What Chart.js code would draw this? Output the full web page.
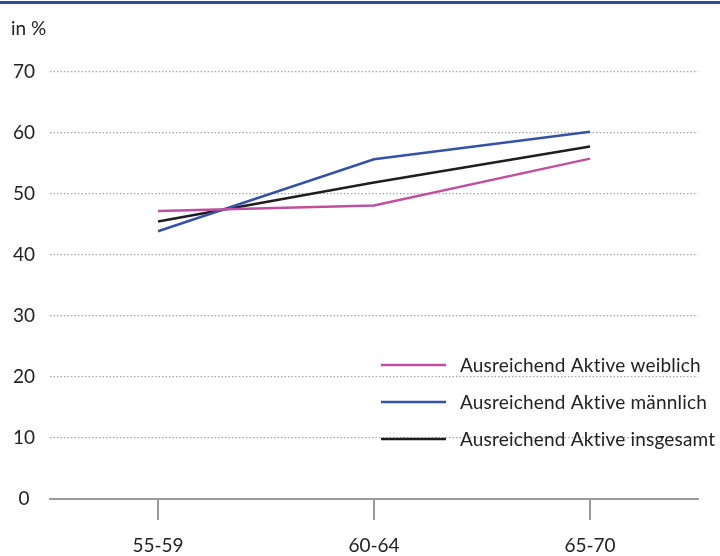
<!DOCTYPE html>
<html>
<head>
<meta charset="utf-8">
<script src="https://cdn.jsdelivr.net/npm/chart.js@4"></script>
<style>
  html, body { margin: 0; padding: 0; background: #fff; }
  #wrap { width: 720px; height: 556px; position: relative; }
</style>
</head>
<body>
<div id="wrap"><canvas id="LineChart"></canvas></div>
<script>
// chart data
const categories = ["55-59", "60-64", "65-70"];
const weiblich = [47.2, 48.1, 55.8];
const maennlich = [43.9, 55.7, 60.2];
const insgesamt = [45.5, 51.9, 57.8];
const seriesLabels = ["Ausreichend Aktive weiblich", "Ausreichend Aktive männlich", "Ausreichend Aktive insgesamt"];
const unitLabel = "in %";

const pink = "#c0509f", blue = "#3553a6", black = "#1e1e1e";
const grey = "#9a9a9a", textColor = "#222";
const fontFamily = "Lato, 'Noto Sans', sans-serif";
const fontSize = 19;

// top bar, unit label and legend drawn inside the chart
const decorations = {
    id: "decorations",
    afterDraw(chart) {
        const ctx = chart.ctx;
        ctx.save();
        ctx.fillStyle = "#2f4b9c";
        ctx.fillRect(0, 1, chart.width, 3);

        ctx.fillStyle = textColor;
        ctx.font = fontSize + "px " + fontFamily;
        ctx.textBaseline = "middle";
        ctx.textAlign = "left";
        ctx.fillText(unitLabel, 11, 29);

        // legend (small letter spacing keeps "ti" from turning into a ligature)
        ctx.letterSpacing = "0.2px";
        const sets = chart.data.datasets;
        for (let i = 0; i < sets.length; i++) {
            const y = 365 + i * 37;
            ctx.strokeStyle = sets[i].borderColor;
            ctx.lineWidth = 2.5;
            ctx.beginPath();
            ctx.moveTo(381, y);
            ctx.lineTo(446, y);
            ctx.stroke();
            ctx.fillStyle = textColor;
            ctx.fillText(sets[i].label, 460, y + 1);
        }
        ctx.restore();
    }
};

var config = {
    type: "line",
    data: {
        labels: categories,
        datasets: [
            { label: seriesLabels[0], data: weiblich, borderColor: pink, backgroundColor: pink },
            { label: seriesLabels[1], data: maennlich, borderColor: blue, backgroundColor: blue },
            { label: seriesLabels[2], data: insgesamt, borderColor: black, backgroundColor: black }
        ]
    },
    options: {
        responsive: true,
        maintainAspectRatio: false,
        animation: false,
        elements: {
            line: { borderWidth: 2.5, tension: 0 },
            point: { radius: 0 }
        },
        layout: { padding: { top: 72, right: 22, left: 0, bottom: 0 } },
        plugins: {
            legend: { display: false },
            tooltip: { enabled: false }
        },
        scales: {
            x: {
                offset: true,
                afterFit(scale) { scale.height = 57; },
                grid: {
                    offset: false,
                    drawOnChartArea: false,
                    drawTicks: true,
                    tickLength: 21,
                    color: grey,
                    lineWidth: 2
                },
                border: { display: true, color: grey, width: 2 },
                ticks: {
                    color: textColor,
                    padding: 14,
                    font: { family: fontFamily, size: fontSize }
                }
            },
            y: {
                min: 0,
                max: 70,
                afterFit(scale) { scale.width = 50; },
                ticks: {
                    stepSize: 10,
                    color: textColor,
                    crossAlign: "center",
                    padding: 15,
                    font: { family: fontFamily, size: fontSize }
                },
                grid: {
                    drawTicks: false,
                    color: ctx => ctx.tick && ctx.tick.value === 0 ? "rgba(0,0,0,0)" : "#a8a8a8",
                    lineWidth: 1.2
                },
                border: { display: false, dash: [1.5, 2] }
            }
        }
    },
    plugins: [decorations]
};

window.myLine = new Chart(document.getElementById("LineChart"), config);
</script>
</body>
</html>
